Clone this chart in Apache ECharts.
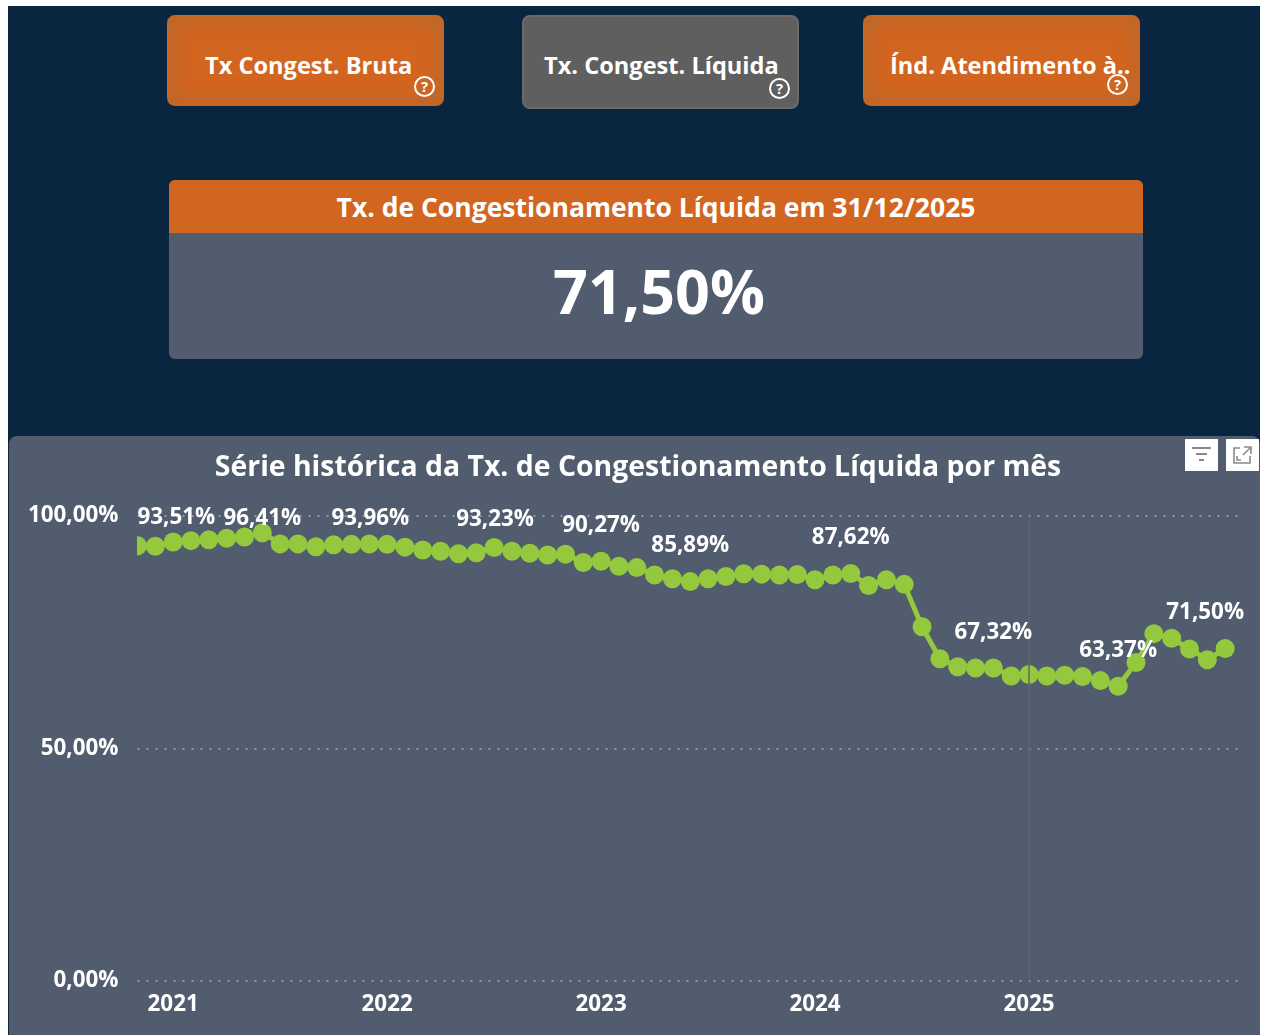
<!DOCTYPE html>
<html>
<head>
<meta charset="utf-8">
<title>Tx. de Congestionamento Líquida</title>
<script src="https://cdn.jsdelivr.net/npm/echarts@6/dist/echarts.min.js"></script>
<style>
	html, body { margin: 0; padding: 0; background: #fff; }
	body { width: 1263px; height: 1035px; overflow: hidden; position: relative; font-family: "Open Sans", sans-serif; color: #fff; }
	.page { position: absolute; left: 8px; top: 6px; width: 1252px; height: 1029px; background: #0a2540; }
	.btn { position: absolute; top: 15px; width: 277px; height: 91px; box-sizing: border-box; border-radius: 8px; font-weight: 700; font-size: 23.6px; white-space: nowrap; }
	.btn.on { background: #d2651f; border: 2px solid #c9661f; box-shadow: inset 0 0 22px #b06a35; }
	.btn.off { background: #5f5f5f; border: 2px solid #6a6a6a; height: 94px; }
	.btn span { position: absolute; top: 0; line-height: 96px; }
	.help { position: absolute; width: 17px; height: 17px; border: 2.5px solid #fff; border-radius: 50%; font-size: 15px; line-height: 17px; text-align: center; font-weight: 700; }
	.kpi { position: absolute; left: 169px; top: 180px; width: 974px; height: 179px; background: #515c6e; border-radius: 6px; overflow: hidden; text-align: center; }
	.kpi .head { height: 53px; line-height: 55px; background: #d2651f; font-size: 26.5px; font-weight: 700; }
	.kpi .val { height: 126px; line-height: 116px; font-size: 61px; font-weight: 700; padding-left: 6px; }
	.panel { position: absolute; left: 9px; top: 436px; width: 1251px; height: 599px; background: #515c6e; border-radius: 8px 8px 0 0; }
	.ico { position: absolute; top: 439px; width: 33px; height: 32px; background: #fff; }
	#chart { position: absolute; left: 0; top: 0; width: 1263px; height: 1035px; }
</style>
</head>
<body>
<div class="page"></div>

<div class="btn on" style="left:167px"><span style="left:36px">Tx Congest. Bruta</span><div class="help" style="left:245px;top:59px">?</div></div>
<div class="btn off" style="left:522px"><span style="left:20px">Tx. Congest. Líquida</span><div class="help" style="left:245px;top:61px">?</div></div>
<div class="btn on" style="left:863px"><span style="left:25px">Índ. Atendimento à..</span><div class="help" style="left:242px;top:57px">?</div></div>

<div class="kpi">
	<div class="head">Tx. de Congestionamento Líquida em 31/12/2025</div>
	<div class="val">71,50%</div>
</div>

<div class="panel"></div>
<div id="chart"></div>

<div class="ico" style="left:1185px">
	<svg width="33" height="32" stroke="#8a8a8a" stroke-width="2"><path d="M7 9H26M11 15H22M14 21H19"/></svg>
</div>
<div class="ico" style="left:1226px">
	<svg width="33" height="32" fill="none" stroke="#8a8a8a" stroke-width="1.6"><path d="M14 9H8V24H24V17M18 8H25V15M25 8L17 16M11 17V21H15"/></svg>
</div>

<script type="text/javascript">
	// meses do eixo; a última posição fica vazia só para a grade passar do último ponto
	var months = [
		'2020-11', '2020-12',
		'2021-01', '2021-02', '2021-03', '2021-04', '2021-05', '2021-06', '2021-07', '2021-08', '2021-09', '2021-10', '2021-11', '2021-12',
		'2022-01', '2022-02', '2022-03', '2022-04', '2022-05', '2022-06', '2022-07', '2022-08', '2022-09', '2022-10', '2022-11', '2022-12',
		'2023-01', '2023-02', '2023-03', '2023-04', '2023-05', '2023-06', '2023-07', '2023-08', '2023-09', '2023-10', '2023-11', '2023-12',
		'2024-01', '2024-02', '2024-03', '2024-04', '2024-05', '2024-06', '2024-07', '2024-08', '2024-09', '2024-10', '2024-11', '2024-12',
		'2025-01', '2025-02', '2025-03', '2025-04', '2025-05', '2025-06', '2025-07', '2025-08', '2025-09', '2025-10', '2025-11', '2025-12',
		''
	];
	var taxaLiquida = [
		93.6, 93.51,
		94.4, 94.7, 94.9, 95.2, 95.5, 96.41, 94.0, 94.0, 93.4, 93.8, 93.9, 93.96,
		93.9, 93.3, 92.7, 92.4, 91.9, 92.1, 93.23, 92.4, 92.0, 91.6, 91.8, 90.0,
		90.27, 89.2, 88.9, 87.3, 86.5, 85.89, 86.5, 87.0, 87.6, 87.5, 87.3, 87.4,
		86.3, 87.3, 87.62, 85.05, 86.3, 85.3, 76.2, 69.3, 67.6, 67.3, 67.32, 65.6,
		65.9, 65.6, 65.75, 65.5, 64.6, 63.37, 68.5, 74.7, 73.7, 71.4, 69.1, 71.50
	];
	var yTicks = [0, 50, 100];
	var labelMonths = ['2020-12', '2021-06', '2021-12', '2022-07', '2023-01', '2023-06', '2024-03', '2024-11', '2025-06', '2025-12'];

	// deslocamento dos rótulos que o visual empurra para dentro da área
	var labelOffsets = {
		'2020-12': [21, 9],
		'2021-06': [0, 23],
		'2021-12': [1, 12],
		'2022-07': [1, 10],
		'2025-12': [-20, 2]
	};

	function brNumber(v) {
		return v.toFixed(2).replace('.', ',') + '%';
	}

	// rótulos em série própria, para ficarem acima da linha vertical de 2025
	var labelData = taxaLiquida.map(function(v, i) {
		var m = months[i];
		if (labelMonths.indexOf(m) < 0) {
			return v;
		}
		return {
			value: v,
			label: {
				show: true,
				position: 'top',
				distance: 17,
				offset: labelOffsets[m] || [0, 2],
				formatter: brNumber(v),
				color: '#fff',
				fontFamily: 'Open Sans',
				fontSize: 22.4,
				fontWeight: 700
			}
		};
	});

	var option = {
		animation: false,
		backgroundColor: 'transparent',
		title: {
			text: 'Série histórica da Tx. de Congestionamento Líquida por mês',
			left: 633,
			top: 449,
			textAlign: 'center',
			textStyle: {
				color: '#fff',
				fontFamily: 'Open Sans',
				fontSize: 28.4,
				fontWeight: 700
			}
		},
		grid: {
			left: 137.5,
			top: 516,
			width: 1105.5,
			height: 465,
			containLabel: false
		},
		xAxis: {
			type: 'category',
			boundaryGap: false,
			data: months,
			axisLine: { show: false },
			axisTick: { show: false },
			splitLine: { show: false },
			axisLabel: {
				interval: function(i, v) {
					return v.slice(5) === '01';
				},
				formatter: function(v) {
					return v.slice(0, 4);
				},
				margin: 13,
				color: '#fff',
				fontFamily: 'Open Sans',
				fontSize: 22.4,
				fontWeight: 700
			}
		},
		yAxis: {
			type: 'value',
			min: yTicks[0],
			max: yTicks[2],
			interval: yTicks[1],
			axisLine: { show: false },
			axisTick: { show: false },
			axisLabel: {
				margin: 19,
				padding: [3, 0, 0, 0],
				color: '#fff',
				fontFamily: 'Open Sans',
				fontSize: 22.4,
				fontWeight: 700,
				formatter: function(v) {
					return brNumber(v);
				}
			},
			splitLine: {
				lineStyle: {
					color: '#aab0b9',
					type: [2, 7],
					width: 1.5
				}
			}
		},
		series: [{
			name: 'Tx. Congest. Líquida',
			type: 'line',
			data: taxaLiquida,
			symbol: 'circle',
			symbolSize: 19,
			showAllSymbol: true,
			clip: false,
			lineStyle: { color: '#94c93d', width: 5 },
			itemStyle: { color: '#94c93d' },
			markLine: {
				silent: true,
				symbol: 'none',
				label: { show: false },
				lineStyle: { color: '#6b5f66', type: 'solid', width: 1.5 },
				data: [{ xAxis: '2025-01' }]
			}
		}, {
			name: 'Rótulos',
			type: 'line',
			z: 10,
			data: labelData,
			symbol: 'circle',
			symbolSize: 19,
			showAllSymbol: true,
			clip: false,
			silent: true,
			lineStyle: { width: 0, opacity: 0 },
			itemStyle: { color: 'transparent' }
		}],
		// corta a bolinha do primeiro mês na borda do gráfico, como no original
		graphic: [{
			type: 'rect',
			z: 100,
			shape: { x: 125, y: 530, width: 12, height: 30 },
			style: { fill: '#515c6e' }
		}]
	};

	var myChart = echarts.init(document.getElementById('chart'));
	myChart.setOption(option);
</script>
</body>
</html>
